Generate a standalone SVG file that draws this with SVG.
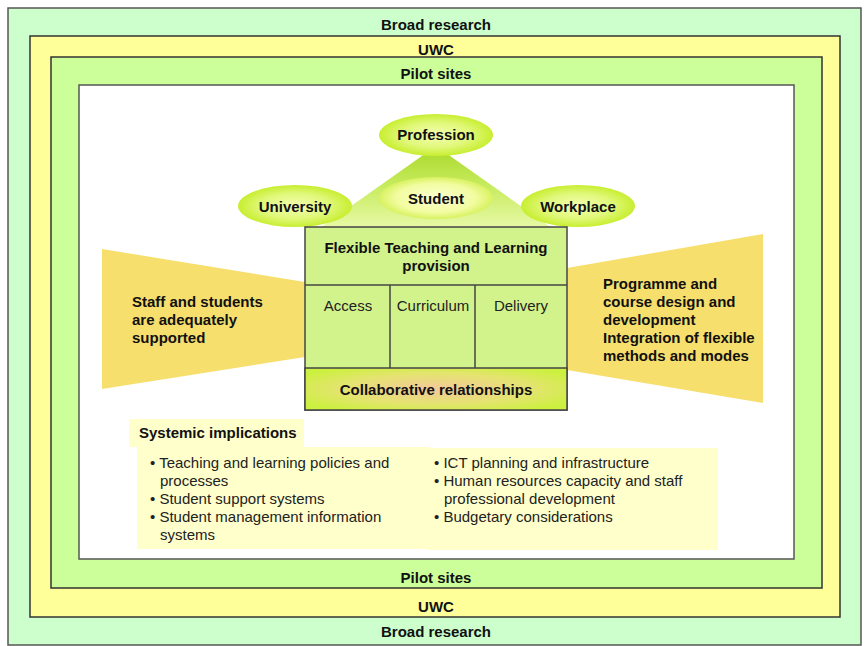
<svg xmlns="http://www.w3.org/2000/svg" width="867" height="646" viewBox="0 0 867 646">
<defs>
<style>
.lbl{font-family:"Liberation Sans",Arial,sans-serif;font-size:15px;font-weight:bold;fill:#111;text-anchor:middle}
.bt{font-family:"Liberation Sans",Arial,sans-serif;font-size:15px;font-weight:bold;fill:#111}
.rt{font-family:"Liberation Sans",Arial,sans-serif;font-size:15px;fill:#222}
.rc{font-family:"Liberation Sans",Arial,sans-serif;font-size:15px;fill:#222;text-anchor:middle}
.frame{stroke:#555;stroke-width:1.5}
.ln{stroke:#444;stroke-width:1.5}
</style>
<radialGradient id="ell" cx="50%" cy="50%" r="50%">
<stop offset="0" stop-color="#f4ffb0"/>
<stop offset="0.6" stop-color="#e0f87a"/>
<stop offset="1" stop-color="#c8ee30"/>
</radialGradient>
<radialGradient id="stu" cx="50%" cy="50%" r="50%">
<stop offset="0" stop-color="#fbffd0"/>
<stop offset="0.7" stop-color="#f2fca0"/>
<stop offset="1" stop-color="#d8f260"/>
</radialGradient>
<linearGradient id="tri" x1="0" y1="0" x2="0" y2="1">
<stop offset="0" stop-color="#a8d828"/>
<stop offset="0.5" stop-color="#c8ec60"/>
<stop offset="1" stop-color="#e8f9a8"/>
</linearGradient>
<radialGradient id="col" cx="50%" cy="50%" r="60%">
<stop offset="0" stop-color="#f4c89a"/>
<stop offset="0.6" stop-color="#e4e470"/>
<stop offset="1" stop-color="#ccf040"/>
</radialGradient>
</defs>
<g id="broad-research">
<rect x="8" y="8" width="853" height="637" fill="#ccffcc" class="frame"/>
<text class="lbl" x="436" y="30">Broad research</text>
<text class="lbl" x="436" y="637">Broad research</text>
</g>
<g id="uwc">
<rect x="30" y="36" width="810" height="581" fill="#ffff99" stroke="#333" stroke-width="1.5"/>
<text class="lbl" x="436" y="55">UWC</text>
<text class="lbl" x="436" y="612">UWC</text>
</g>
<g id="pilot-sites">
<rect x="51" y="57" width="771" height="531" fill="#ccff99" stroke="#333" stroke-width="1.5"/>
<text class="lbl" x="436" y="79">Pilot sites</text>
<text class="lbl" x="436" y="583">Pilot sites</text>
</g>
<g id="inner">
<rect x="79" y="85" width="715" height="474" fill="#ffffff" class="frame"/>
</g>
<g id="triangle">
<polygon points="436,146 320,228 552,228" fill="url(#tri)"/>
</g>
<g id="staff-support">
<polygon points="102,249 305,282 305,357 102,389" fill="#f7df6e"/>
<text class="bt" x="132" y="307">Staff and students</text>
<text class="bt" x="132" y="325">are adequately</text>
<text class="bt" x="132" y="343">supported</text>
</g>
<g id="programme">
<polygon points="567,268 763,234 763,403 567,370" fill="#f7df6e"/>
<text class="bt" x="603" y="289">Programme and</text>
<text class="bt" x="603" y="307">course design and</text>
<text class="bt" x="603" y="325">development</text>
<text class="bt" x="603" y="343">Integration of flexible</text>
<text class="bt" x="603" y="361">methods and modes</text>
</g>
<g id="profession">
<ellipse cx="436" cy="135" rx="57" ry="21" fill="url(#ell)"/>
<text class="lbl" x="436" y="140">Profession</text>
</g>
<g id="university">
<ellipse cx="295" cy="206" rx="57" ry="21" fill="url(#ell)"/>
<text class="lbl" x="295" y="212">University</text>
</g>
<g id="workplace">
<ellipse cx="578" cy="206" rx="57" ry="21" fill="url(#ell)"/>
<text class="lbl" x="578" y="212">Workplace</text>
</g>
<g id="student">
<ellipse cx="436" cy="198" rx="57" ry="21" fill="url(#stu)"/>
<text class="lbl" x="436" y="204">Student</text>
</g>
<g id="ftl-provision">
<rect x="305" y="227" width="262" height="183" fill="#d2f28c" class="ln"/>
<text class="lbl" x="436" y="253">Flexible Teaching and Learning</text>
<text class="lbl" x="436" y="271">provision</text>
<line x1="305" y1="285" x2="567" y2="285" class="ln"/>
</g>
<g id="access">
<text class="rc" x="348" y="311">Access</text>
<line x1="390" y1="285" x2="390" y2="368" class="ln"/>
</g>
<g id="curriculum">
<text class="rc" x="433" y="311">Curriculum</text>
<line x1="475" y1="285" x2="475" y2="368" class="ln"/>
</g>
<g id="delivery">
<text class="rc" x="521" y="311">Delivery</text>
</g>
<g id="collaborative">
<rect x="305" y="368" width="262" height="42" fill="url(#col)" class="ln"/>
<text class="lbl" x="436" y="395">Collaborative relationships</text>
</g>
<g id="systemic">
<rect x="129" y="419" width="175" height="28" fill="#ffffcc"/>
<text class="bt" x="139" y="438">Systemic implications</text>
<rect x="137" y="447" width="293" height="102" fill="#ffffcc"/>
<rect x="428" y="448" width="290" height="102" fill="#ffffcc"/>
<text class="rt" x="150" y="468">• Teaching and learning policies and</text>
<text class="rt" x="160" y="486">processes</text>
<text class="rt" x="150" y="504">• Student support systems</text>
<text class="rt" x="150" y="522">• Student management information</text>
<text class="rt" x="160" y="540">systems</text>
<text class="rt" x="434" y="468">• ICT planning and infrastructure</text>
<text class="rt" x="434" y="486">• Human resources capacity and staff</text>
<text class="rt" x="444" y="504">professional development</text>
<text class="rt" x="434" y="522">• Budgetary considerations</text>
</g>
<g id="connectors"></g>
</svg>
